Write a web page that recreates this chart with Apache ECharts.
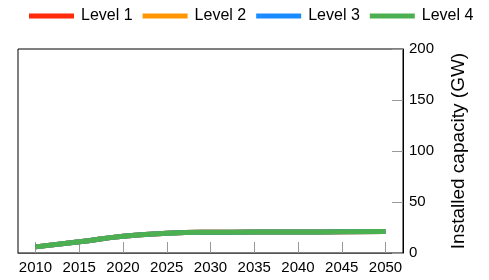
<!DOCTYPE html>
<html>
<head>
<meta charset="utf-8">
<script src="https://cdn.jsdelivr.net/npm/echarts@6/dist/echarts.min.js"></script>
<style>
  html, body { margin: 0; padding: 0; background: #fff; }
  #chart { width: 489px; height: 280px; }
</style>
</head>
<body>
<div id="chart"></div>
<script>
// years on the x axis
const years = [2010, 2015, 2020, 2025, 2030, 2035, 2040, 2045, 2050]
// installed capacity (GW) per level (lines overlap)
const level1 = [6, 11, 16.5, 19.3, 20.3, 20.5, 20.6, 20.8, 21]
const level2 = [6, 11, 16.5, 19.3, 20.3, 20.5, 20.6, 20.8, 21]
const level3 = [6, 11, 16.5, 19.3, 20.3, 20.5, 20.6, 20.8, 21]
const level4 = [6, 11, 16.5, 19.3, 20.3, 20.5, 20.6, 20.8, 21]

const names = ['Level 1', 'Level 2', 'Level 3', 'Level 4']
const colors = ['#ff2a0a', '#ff9500', '#1a8cff', '#4caf50']
const allLevels = [level1, level2, level3, level4]

const chart = echarts.init(document.getElementById('chart'))
const font = 'Liberation Sans, Arial, sans-serif'

const option = {
  animation: false,
  textStyle: { fontFamily: font },
  legend: {
    top: 8,
    left: 29,
    padding: 0,
    itemWidth: 45,
    itemHeight: 5,
    itemGap: 10,
    icon: 'rect',
    textStyle: { fontSize: 16, color: '#000', fontFamily: font, padding: [0, 0, 0, 2] },
    data: names
  },
  grid: {
    left: 18, right: 86, top: 49, bottom: 27,
    show: true, borderColor: '#000', borderWidth: 1
  },
  xAxis: {
    type: 'value',
    min: 2008,
    max: 2052,
    axisLine: { show: true, lineStyle: { color: '#555', width: 1 } },
    axisTick: { show: true, inside: true, length: 11, customValues: years, lineStyle: { color: '#999' } },
    axisLabel: {
      customValues: years, color: '#000', fontSize: 15, margin: 7,
      formatter: (v) => String(v)
    },
    splitLine: { show: false }
  },
  yAxis: {
    type: 'value',
    position: 'right',
    min: 0,
    max: 200,
    interval: 50,
    name: 'Installed capacity (GW)',
    nameLocation: 'middle',
    nameRotate: 90,
    nameGap: 46,
    nameTextStyle: { fontSize: 19, color: '#000' },
    axisLine: { show: true, lineStyle: { color: '#000' } },
    axisTick: { show: true, inside: true, length: 11, lineStyle: { color: '#999' } },
    axisLabel: { color: '#000', fontSize: 15, margin: 6 },
    splitLine: { show: false }
  },
  series: allLevels.map((vals, i) => ({
    name: names[i],
    type: 'line',
    smooth: true,
    symbol: 'none',
    lineStyle: { width: 5, color: colors[i] },
    itemStyle: { color: colors[i] },
    data: vals.map((v, j) => [years[j], v])
  }))
}
chart.setOption(option)
</script>
</body>
</html>
